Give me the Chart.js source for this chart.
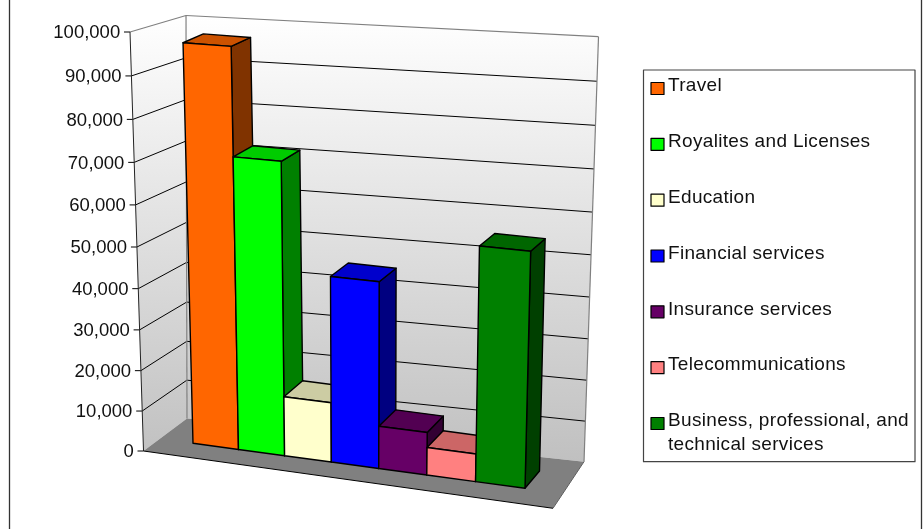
<!DOCTYPE html>
<html>
<head>
<meta charset="utf-8">
<style>
html, body { margin: 0; padding: 0; background: #fff; }
canvas { display: block; }
</style>
<script src="https://cdn.jsdelivr.net/npm/chart.js@4/dist/chart.umd.min.js"></script>
</head>
<body>
<canvas id="servicesChart" width="923" height="529"></canvas>
<script>
const categories = ['Travel', 'Royalites and Licenses', 'Education', 'Financial services',
    'Insurance services', 'Telecommunications', 'Business, professional, and technical services'];
const seriesValues = [97000, 71500, 14800, 45500, 10500, 6800, 56300];
const frontColors = ['#ff6600', '#00ff00', '#ffffcc', '#0000ff', '#660066', '#ff8080', '#008000'];
const topColors = ['#cc5200', '#00cc00', '#cccca3', '#0000cc', '#520052', '#cc6666', '#006600'];
const sideColors = ['#803300', '#008000', '#808066', '#000080', '#330033', '#804040', '#004000'];

// Perspective box
const wallFrontLeft = { top: [130, 32], bottom: [143.5, 451] };
const wallBackLeft = { top: [186, 15.5], bottom: [187, 418.6] };
const wallBackRight = { top: [598.5, 36.7], bottom: [584, 461.7] };
const floorFrontRight = [553, 508.3];
const barFrontQuad = [[182.7, 29.6], [535.3, 55.5], [525, 488.3], [193, 443.3]];
const barBackQuad = [[203, 21], [549.8, 46.5], [539.5, 471], [213.5, 426]];
const PERSPECTIVE = 0.0512;

function squareToQuad(q) {
    const [[x0, y0], [x1, y1], [x2, y2], [x3, y3]] = q;
    const dx1 = x1 - x2, dx2 = x3 - x2, sx = x0 - x1 + x2 - x3;
    const dy1 = y1 - y2, dy2 = y3 - y2, sy = y0 - y1 + y2 - y3;
    const det = dx1 * dy2 - dx2 * dy1;
    const g = (sx * dy2 - dx2 * sy) / det;
    const h = (dx1 * sy - sx * dy1) / det;
    return (u, v) => {
        const w = g * u + h * v + 1;
        return [
            ((x1 - x0 + g * x1) * u + (x3 - x0 + h * x3) * v + x0) / w,
            ((y1 - y0 + g * y1) * u + (y3 - y0 + h * y3) * v + y0) / w
        ];
    };
}
const frontMap = squareToQuad(barFrontQuad);
const backMap = squareToQuad(barBackQuad);

// position along a wall edge for a share of the y axis
function onEdge(edge, t) {
    const s = (1 - PERSPECTIVE) * t / (1 - PERSPECTIVE * t);
    return [
        edge.bottom[0] + (edge.top[0] - edge.bottom[0]) * s,
        edge.bottom[1] + (edge.top[1] - edge.bottom[1]) * s
    ];
}

function poly(ctx, pts, fill, stroke, lineWidth) {
    ctx.beginPath();
    pts.forEach((p, i) => i ? ctx.lineTo(p[0], p[1]) : ctx.moveTo(p[0], p[1]));
    ctx.closePath();
    if (fill) { ctx.fillStyle = fill; ctx.fill(); }
    if (stroke) { ctx.strokeStyle = stroke; ctx.lineWidth = lineWidth; ctx.stroke(); }
}

function line(ctx, a, b, color, lineWidth) {
    ctx.beginPath();
    ctx.moveTo(a[0], a[1]);
    ctx.lineTo(b[0], b[1]);
    ctx.strokeStyle = color;
    ctx.lineWidth = lineWidth;
    ctx.stroke();
}

function drawWalls(chart) {
    const ctx = chart.ctx;
    const y = chart.scales.y;
    const wallFill = ctx.createLinearGradient(0, 15, 0, 462);
    wallFill.addColorStop(0, '#ffffff');
    wallFill.addColorStop(1, '#c0c0c0');

    poly(ctx, [wallFrontLeft.top, wallBackLeft.top, wallBackLeft.bottom, wallFrontLeft.bottom], wallFill);
    poly(ctx, [wallBackLeft.top, wallBackRight.top, wallBackRight.bottom, wallBackLeft.bottom], wallFill);
    poly(ctx, [wallFrontLeft.bottom, floorFrontRight, wallBackRight.bottom, wallBackLeft.bottom], '#808080');

    ctx.font = '18.5px "Liberation Sans"';
    ctx.textAlign = 'right';
    ctx.textBaseline = 'middle';
    y.ticks.forEach(tick => {
        const t = (tick.value - y.min) / (y.max - y.min);
        const a = onEdge(wallFrontLeft, t);
        const b = onEdge(wallBackLeft, t);
        const c = onEdge(wallBackRight, t);
        if (t > 0 && t < 1) {
            line(ctx, a, b, '#000', 1);
            line(ctx, b, c, '#000', 1);
        }
        line(ctx, [a[0] - 6, a[1]], a, '#000', 1);
        ctx.fillStyle = '#111';
        ctx.fillText(tick.label, a[0] - 9.8, a[1] + 1.2);
    });

    line(ctx, wallFrontLeft.top, wallBackLeft.top, '#808080', 1.2);
    line(ctx, wallBackLeft.top, wallBackLeft.bottom, '#808080', 1.2);
    line(ctx, wallBackLeft.top, wallBackRight.top, '#808080', 1.2);
    line(ctx, wallBackRight.top, wallBackRight.bottom, '#808080', 1.2);
    line(ctx, wallFrontLeft.top, wallFrontLeft.bottom, '#222', 1);
    line(ctx, wallFrontLeft.bottom, floorFrontRight, '#000', 1);
    line(ctx, floorFrontRight, wallBackRight.bottom, '#606060', 1);
}

function drawBars(chart) {
    const ctx = chart.ctx;
    const area = chart.chartArea;
    const u = px => (px - area.left) / (area.right - area.left);
    const v = px => (px - area.top) / (area.bottom - area.top);
    ctx.lineJoin = 'round';
    chart.getDatasetMeta(0).data.forEach((bar, i) => {
        const left = u(bar.x - bar.width / 2);
        const right = u(bar.x + bar.width / 2);
        const top = v(bar.y);
        const base = v(bar.base);
        poly(ctx, [frontMap(right, top), backMap(right, top), backMap(right, base), frontMap(right, base)],
            sideColors[i], '#000', 1.4);
        poly(ctx, [frontMap(left, top), backMap(left, top), backMap(right, top), frontMap(right, top)],
            topColors[i], '#000', 1.4);
        poly(ctx, [frontMap(left, top), frontMap(right, top), frontMap(right, base), frontMap(left, base)],
            frontColors[i], '#000', 1.4);
    });
}

function drawLegend(chart) {
    const ctx = chart.ctx;
    ctx.fillStyle = '#fff';
    ctx.strokeStyle = '#444';
    ctx.lineWidth = 1.2;
    ctx.fillRect(643.5, 70, 271.5, 391.7);
    ctx.strokeRect(643.5, 70, 271.5, 391.7);

    ctx.font = '19px "Liberation Sans"';
    ctx.letterSpacing = '0.32px';
    ctx.textAlign = 'left';
    ctx.textBaseline = 'middle';
    categories.forEach((name, i) => {
        const rowY = 85 + i * 55.83;
        ctx.fillStyle = frontColors[i];
        ctx.strokeStyle = '#000';
        ctx.lineWidth = 1.2;
        ctx.fillRect(651, rowY - 2.5, 13, 12);
        ctx.strokeRect(651, rowY - 2.5, 13, 12);

        // wrap long names inside the legend box
        const rows = [];
        let current = '';
        name.split(' ').forEach(word => {
            const next = current ? current + ' ' + word : word;
            if (ctx.measureText(next).width > 245 && current) {
                rows.push(current);
                current = word;
            } else {
                current = next;
            }
        });
        rows.push(current);
        ctx.fillStyle = '#111';
        rows.forEach((row, r) => ctx.fillText(row, 668, rowY + 1 + r * 24));
    });
    ctx.letterSpacing = '0px';
}

const perspectivePlugin = {
    id: 'perspective',
    beforeDatasetsDraw(chart) {
        const ctx = chart.ctx;
        ctx.save();
        line(ctx, [9.5, 0], [9.5, 529], '#333', 1.3);
        line(ctx, [921.5, 0], [921.5, 529], '#333', 1.3);
        drawWalls(chart);
        drawBars(chart);
        drawLegend(chart);
        ctx.restore();
        return false;
    }
};

new Chart(document.getElementById('servicesChart'), {
    type: 'bar',
    data: {
        labels: categories,
        datasets: [{
            data: seriesValues,
            backgroundColor: frontColors,
            barPercentage: 1,
            categoryPercentage: 1
        }]
    },
    options: {
        responsive: false,
        animation: false,
        devicePixelRatio: 1,
        layout: { padding: { left: 130, top: 32, right: 368, bottom: 78 } },
        plugins: { legend: { display: false }, tooltip: { enabled: false } },
        scales: {
            x: { display: false },
            y: {
                display: false,
                min: 0,
                max: 100000,
                ticks: {
                    stepSize: 10000,
                    callback: value => value.toLocaleString('en-US')
                }
            }
        }
    },
    plugins: [perspectivePlugin]
});
</script>
</body>
</html>
